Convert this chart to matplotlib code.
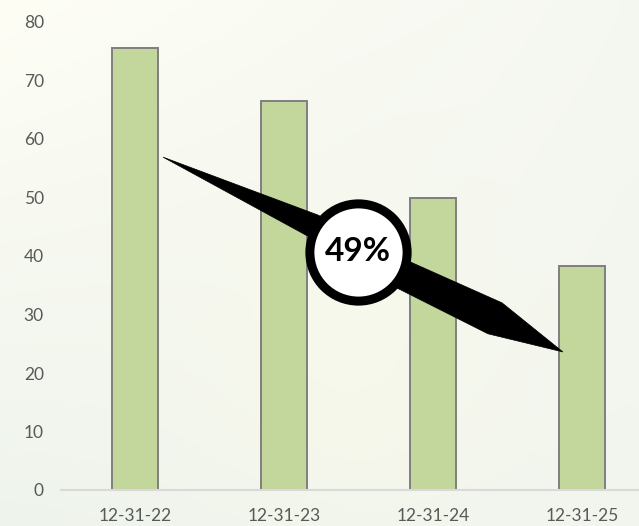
import numpy as np
import matplotlib
matplotlib.use("Agg")
import matplotlib.pyplot as plt
from matplotlib.patches import Polygon

categories = ["12-31-22", "12-31-23", "12-31-24", "12-31-25"]
values = [75.6, 66.5, 49.9, 38.3]
yticks = [0, 10, 20, 30, 40, 50, 60, 70, 80]
callout_text = "49%"

plt.rcParams['font.family'] = ['Lato', 'DejaVu Sans']

fig = plt.figure(figsize=(6.39, 5.26), dpi=100)

# background gradient
bg = fig.add_axes([0, 0, 1, 1], zorder=0)
h, w = 100, 120
yy, xx = np.mgrid[0:1:h*1j, 0:1:w*1j]
c_tl = np.array([0.995, 0.995, 0.960])
c_tr = np.array([0.960, 0.972, 0.945])
c_bl = np.array([0.935, 0.955, 0.925])
c_br = np.array([0.950, 0.962, 0.935])
c_mid = np.array([0.978, 0.978, 0.915])
img = (c_tl[None, None, :] * ((1 - xx) * (1 - yy))[..., None]
       + c_tr[None, None, :] * (xx * (1 - yy))[..., None]
       + c_bl[None, None, :] * ((1 - xx) * yy)[..., None]
       + c_br[None, None, :] * (xx * yy)[..., None])
bump = np.exp(-(((xx - 0.55) / 0.25) ** 2 + ((yy - 0.7) / 0.3) ** 2))
img = img * (1 - 0.6 * bump[..., None]) + c_mid[None, None, :] * 0.6 * bump[..., None]
bg.imshow(np.clip(img, 0, 1), aspect='auto', extent=[0, 1, 0, 1], interpolation='bicubic')
bg.axis('off')

ax = fig.add_axes([60.5 / 639, 36 / 526, 596 / 639, 468 / 526], zorder=1)
ax.patch.set_alpha(0)
x = np.arange(len(categories))
ax.bar(x, values, width=0.31, color='#c3d69b', edgecolor='#7f7f7f', linewidth=1.4, zorder=2)
ax.set_xlim(-0.5, len(categories) - 0.5)
ax.set_ylim(0, 80)
ax.set_yticks(yticks)
ax.set_xticks(x)
ax.set_xticklabels(categories)
for s in ['top', 'right', 'left']:
    ax.spines[s].set_visible(False)
ax.spines['bottom'].set_color('#d9d9d9')
ax.spines['bottom'].set_linewidth(1.5)
ax.tick_params(axis='both', length=0, labelsize=12.5, labelcolor='#595959')
ax.tick_params(axis='y', pad=12)
ax.tick_params(axis='x', pad=13)

# callout arrow (annotation shape)
poly = [(0.188, 56.9), (1.228, 47.0), (1.846, 39.0), (2.463, 32.0),
        (2.872, 23.6), (2.369, 26.7), (1.745, 34.7), (1.174, 43.2)]
ax.add_patch(Polygon(poly, closed=True, facecolor='black', edgecolor='black', lw=0.5, zorder=3))
ax.plot([1.497], [40.7], marker='o', markersize=70, markerfacecolor='white',
        markeredgecolor='black', markeredgewidth=6.5, zorder=4, clip_on=False)
ax.text(1.497, 40.7, callout_text, ha='center', va='center', fontsize=24,
        fontweight='bold', color='black', zorder=5)

fig.savefig('out.png', dpi=100)
